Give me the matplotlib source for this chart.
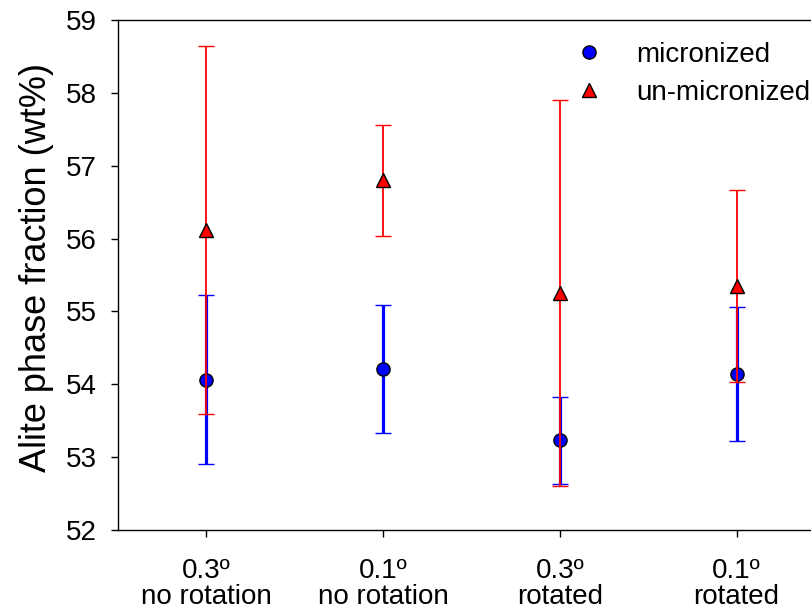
import numpy as np
import matplotlib.pyplot as plt
from matplotlib.lines import Line2D

plt.rcParams['font.family'] = ['Liberation Sans', 'DejaVu Sans']

# Образцы и измеренные значения
categories = ["0.3º\nno rotation", "0.1º\nno rotation", "0.3º\nrotated", "0.1º\nrotated"]
micronized = [54.06, 54.21, 53.23, 54.14]
micronized_err = [1.16, 0.88, 0.60, 0.92]
unmicronized = [56.12, 56.80, 55.25, 55.35]
unmicronized_err = [2.53, 0.76, 2.65, 1.32]

x = np.arange(1, len(categories) + 1)

fig = plt.figure(figsize=(8.12, 6.12), dpi=100)
# правая граница осей уходит за край рисунка
ax = fig.add_axes([118 / 812, 82 / 612, 707 / 812, 510 / 612])

ax.errorbar(x, micronized, yerr=micronized_err, fmt='o', color='blue',
            ecolor='blue', elinewidth=2.3, capsize=6, capthick=2.3,
            markersize=9.5, markeredgecolor='black', markerfacecolor='blue',
            markeredgewidth=1.0, zorder=2)
ax.errorbar(x, unmicronized, yerr=unmicronized_err, fmt='^', color='red',
            ecolor='red', elinewidth=1.3, capsize=6, capthick=1.3,
            markersize=9.5, markeredgecolor='black', markerfacecolor='red',
            markeredgewidth=1.0, zorder=3)

ax.set_xlim(0.5, 4.5)
ax.set_ylim(52, 59)
ax.set_yticks(np.arange(52, 60, 1))
ax.set_xticks(x)
ax.set_xticklabels(categories, fontsize=20, linespacing=1.0)
ax.tick_params(axis='y', labelsize=20, direction='out', length=5, width=1, pad=10)
ax.tick_params(axis='x', direction='out', length=5, width=1, pad=15.5)
ax.set_ylabel("Alite phase fraction (wt%)", fontsize=26)
ax.yaxis.set_label_coords(-0.091, 0.515)

for side in ['left', 'bottom', 'top', 'right']:
    ax.spines[side].set_linewidth(1.0)

handles = [
    Line2D([], [], marker='o', linestyle='none', markerfacecolor='blue',
           markeredgecolor='black', markersize=9.5),
    Line2D([], [], marker='^', linestyle='none', markerfacecolor='red',
           markeredgecolor='black', markersize=9.5),
]
ax.legend(handles, ["micronized", "un-micronized"], loc='upper left',
          bbox_to_anchor=(0.6266, 0.957), frameon=False, fontsize=20,
          handletextpad=0.7, labelspacing=0.42, borderpad=0, borderaxespad=0)

fig.savefig("out.png", dpi=100)
